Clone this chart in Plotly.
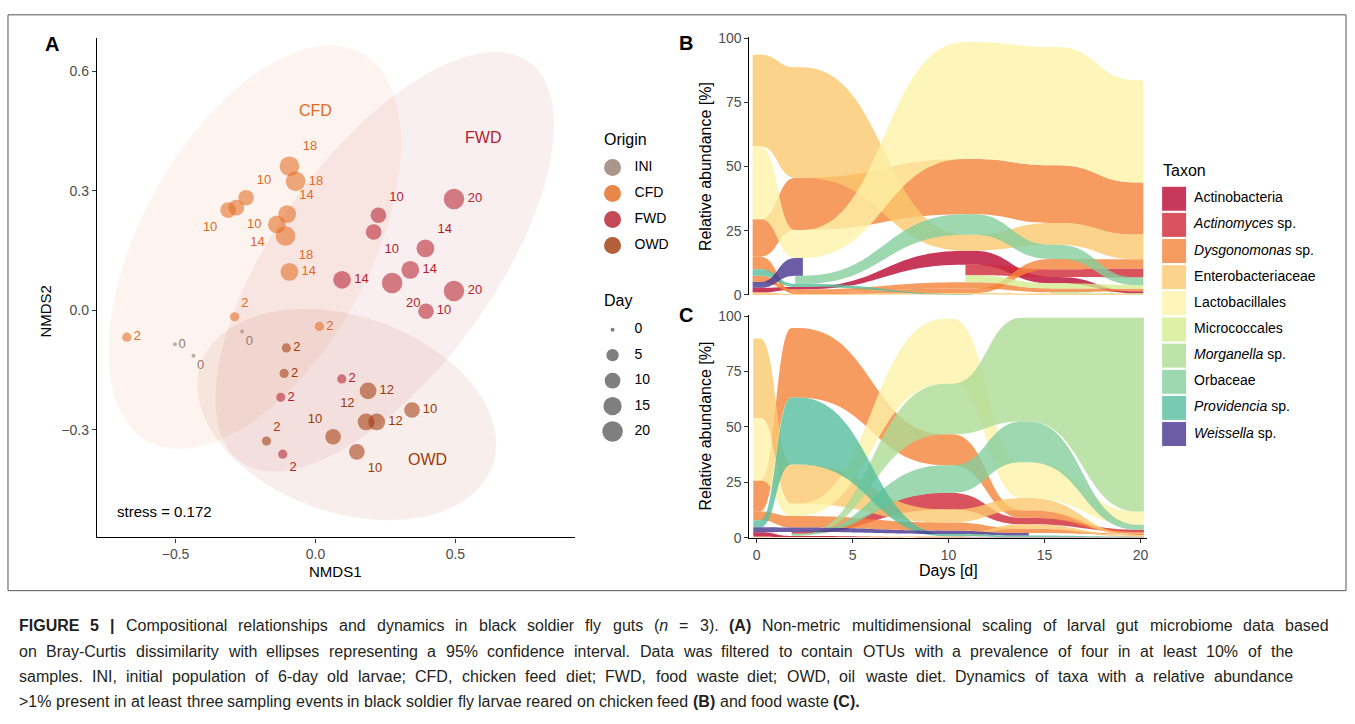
import numpy as np
import plotly.graph_objects as go

W, H = 1355, 724
FONT = "Liberation Sans, Arial, Helvetica, sans-serif"

# ---------------- Panel A: NMDS data ----------------
ini_x = [-0.262, -0.502, -0.436]
ini_y = [-0.053, -0.085, -0.114]
ini_day = [0, 0, 0]

cfd_x = [-0.093, -0.071, -0.248, -0.283, -0.312, -0.101, -0.138, -0.107, -0.093, -0.289, -0.674, 0.014]
cfd_y = [0.362, 0.324, 0.283, 0.258, 0.252, 0.242, 0.216, 0.187, 0.097, -0.016, -0.067, -0.040]
cfd_day = [18, 18, 10, 10, 10, 14, 14, 18, 14, 2, 2, 2]

fwd_x = [0.495, 0.225, 0.208, 0.393, 0.339, 0.095, 0.274, 0.495, 0.395, 0.094, -0.124, -0.117]
fwd_y = [0.280, 0.239, 0.197, 0.156, 0.102, 0.077, 0.069, 0.049, -0.002, -0.172, -0.218, -0.361]
fwd_day = [20, 10, 10, 14, 14, 14, 20, 20, 10, 2, 2, 2]

owd_x = [-0.104, -0.112, -0.175, 0.188, 0.345, 0.181, 0.219, 0.063, 0.148]
owd_y = [-0.094, -0.158, -0.328, -0.202, -0.250, -0.280, -0.280, -0.317, -0.355]
owd_day = [2, 2, 2, 12, 10, 12, 12, 10, 10]

# label placement (ggrepel-like), styling only
ini_pos = ["bottom right", "middle right", "bottom right"]
cfd_pos = ["top right", "middle right", "top right", "bottom right", "bottom left", "top right",
           "bottom left", "bottom right", "middle right", "top right", "middle right", "middle right"]
fwd_pos = ["middle right", "top right", "bottom right", "top right", "middle right", "middle right",
           "bottom right", "middle right", "middle right", "middle right", "middle right", "bottom right"]
owd_pos = ["middle right", "middle right", "top right", "middle right", "middle right", "top left",
           "middle right", "top left", "bottom right"]

# 95% ellipses: centre, two conjugate semi-axis vectors (data units)
ell_cfd = dict(c=(-0.217, 0.159), u=(0.377, 0.489), v=(0.3626, -0.1326))
ell_fwd = dict(c=(0.2475, 0.1222), u=(0.5125, 0.5035), v=(0.3218, -0.1551))
ell_owd = dict(c=(0.1118, -0.2614), u=(0.520, -0.1303), v=(-0.1221, -0.2311))

stress_text = "stress = 0.172"
group_label_xy = {"CFD": (-0.001, 0.503), "FWD": (0.598, 0.434), "OWD": (0.401, -0.374)}
legend_days = [0, 5, 10, 15, 20]

GROUP_COL = {"INI": (148, 123, 109), "CFD": (226, 105, 29), "FWD": (180, 28, 44), "OWD": (160, 56, 9)}

# ---------------- Panels B/C: taxa dynamics ----------------
TAXA = ["Actinobacteria", "Actinomyces", "Dysgonomonas", "Enterobacteriaceae", "Lactobacillales",
        "Micrococcales", "Morganella", "Orbaceae", "Providencia", "Weissella"]
TAXA_LABEL = ["Actinobacteria", "<i>Actinomyces</i> sp.", "<i>Dysgonomonas</i> sp.", "Enterobacteriaceae",
              "Lactobacillales", "Micrococcales", "<i>Morganella</i> sp.", "Orbaceae",
              "<i>Providencia</i> sp.", "<i>Weissella</i> sp."]
TAXA_SEEN = [(200, 56, 90), (217, 83, 95), (246, 156, 97), (252, 211, 138), (254, 245, 186),
             (220, 240, 166), (189, 227, 170), (157, 216, 176), (120, 203, 176), (107, 92, 166)]

days_b = [0, 2, 10, 14, 18]
b_ent1 = [35.6, 43.0, 6.2, 8.5, 9.6]
b_lac1 = [28.4, 10.9, 45.6, 46.0, 39.8]
b_dys1 = [14.6, 20.3, 21.5, 22.5, 20.3]
b_dys2 = [4.9, 0.8, 1.8, 4.0, 3.6]
b_dys3 = [2.5, 1.0, 2.4, 1.5, 1.0]
b_prov = [2.5, 1.2, 0.2, None, None]
b_weis = [2.2, 6.9, None, None, None]
b_act = [1.9, 1.0, 5.5, 2.5, 0.8]
b_ent2 = [0.9, 0.3, 0.5, 0.5, 0.3]
b_orb = [None, 3.2, 8.0, 5.5, 2.9]
b_actm = [None, None, 4.0, 3.0, 3.5]
b_micro = [None, None, 2.8, 2.0, 1.5]
b_morg = [None, None, None, 0.5, 0.3]

days_c = [0, 2, 10, 14, 20]
c_ent1 = [35.8, 17.7, 5.9, 5.5, 0.5]
c_lac1 = [28.2, 5.6, 29.4, 16.2, 5.9]
c_dys1 = [14.0, 31.4, 14.0, 3.4, 0.8]
c_dys2 = [4.0, 5.2, 3.7, 2.0, 0.5]
c_prov = [3.2, 30.2, 1.0, 0.8, 0.3]
c_weis = [2.2, 2.0, 1.5, 1.1, None]
c_act = [2.0, 0.5, 0.2, 0.2, 0.2]
c_ent2 = [0.5, 0.3, 0.5, 2.0, 0.3]
c_actm = [None, 0.8, 7.4, 2.9, 1.0]
c_morg = [None, 0.5, 22.8, 46.8, 87.5]
c_orb = [None, 0.5, 12.5, 18.4, 2.3]

otus_b = {
    "Ent1": ("Enterobacteriaceae", b_ent1), "Lac1": ("Lactobacillales", b_lac1),
    "Dys1": ("Dysgonomonas", b_dys1), "Dys2": ("Dysgonomonas", b_dys2), "Dys3": ("Dysgonomonas", b_dys3),
    "Prov": ("Providencia", b_prov), "Weis": ("Weissella", b_weis), "Act": ("Actinobacteria", b_act),
    "Ent2": ("Enterobacteriaceae", b_ent2), "Orb": ("Orbaceae", b_orb), "Actm": ("Actinomyces", b_actm),
    "Micro": ("Micrococcales", b_micro), "Morg": ("Morganella", b_morg),
}
otus_c = {
    "Ent1": ("Enterobacteriaceae", c_ent1), "Lac1": ("Lactobacillales", c_lac1),
    "Dys1": ("Dysgonomonas", c_dys1), "Dys2": ("Dysgonomonas", c_dys2), "Prov": ("Providencia", c_prov),
    "Weis": ("Weissella", c_weis), "Act": ("Actinobacteria", c_act), "Ent2": ("Enterobacteriaceae", c_ent2),
    "Actm": ("Actinomyces", c_actm), "Morg": ("Morganella", c_morg), "Orb": ("Orbaceae", c_orb),
}

# caption text ('**' marks a bold word, '_x_' italics)
caption_lines = [
    "**FIGURE **5 **| Compositional relationships and dynamics in black soldier fly guts (_n_ = 3). **(A) "
    "Non-metric multidimensional scaling of larval gut microbiome data based",
    "on Bray-Curtis dissimilarity with ellipses representing a 95% confidence interval. Data was filtered to "
    "contain OTUs with a prevalence of four in at least 10% of the",
    "samples. INI, initial population of 6-day old larvae; CFD, chicken feed diet; FWD, food waste diet; "
    "OWD, oil waste diet. Dynamics of taxa with a relative abundance",
    ">1% present in at least three sampling events in black soldier fly larvae reared on chicken feed "
    "**(B) and food waste **(C).",
]
caption_right = [1328, 1292, 1292, None]   # justified right edge per line (None = ragged last line)

# ---------------- helpers ----------------
def px(x):
    return x / W


def py(y):
    return 1 - y / H


def rgba(c, a):
    return "rgba(%d,%d,%d,%.3f)" % (c[0], c[1], c[2], a)


def base_from_seen(c, a):
    return tuple(int(max(0, min(255, round((v - (1 - a) * 255) / a)))) for v in c)


def dot_size(d):
    return 4 + 16.5 * np.sqrt(np.asarray(d, dtype=float) / 20.0)


# Liberation Sans (Arial-metric) advance widths, 1/1000 em
_REG = {' ': 278, '%': 889, '(': 333, ')': 333, ',': 278, '-': 333, '.': 278, ';': 278, ':': 278,
        '=': 584, '>': 584, '|': 260, 'A': 667, 'B': 667, 'C': 722, 'D': 722, 'E': 667, 'F': 611, 'G': 778,
        'H': 722, 'I': 278, 'N': 722, 'O': 778, 'R': 722, 'S': 667, 'T': 611, 'U': 722, 'W': 944,
        'a': 556, 'b': 556, 'c': 500, 'd': 556, 'e': 556, 'f': 278, 'g': 556, 'h': 556, 'i': 222, 'j': 222,
        'k': 500, 'l': 222, 'm': 833, 'n': 556, 'o': 556, 'p': 556, 'q': 556, 'r': 333, 's': 500, 't': 278,
        'u': 556, 'v': 500, 'w': 722, 'x': 500, 'y': 500, 'z': 500}
_BOLD = dict(_REG)
_BOLD.update({'|': 280, 'A': 722, 'B': 722, 'C': 722, 'F': 611, 'G': 778, 'I': 278, 'R': 722, 'U': 722, 'E': 667})


def tok_width(txt, bold, size):
    tab = _BOLD if bold else _REG
    return sum(tab.get(ch, 556) for ch in txt) * size / 1000.0


def parse_words(line):
    words = []
    for raw in line.split(" "):
        bold = raw.startswith("**")
        w = raw[2:] if bold else raw
        plain = w.replace("_", "")
        html = w
        if "_" in html:
            parts = html.split("_")
            html = parts[0] + "<i>" + parts[1] + "</i>" + "".join(parts[2:])
        if html.startswith(">"):
            html = "&gt;" + html[1:]
        if bold:
            html = "<b>" + html + "</b>"
        words.append((html, plain, bold))
    return words


fig = go.Figure()
shapes = []

# ---------------- Panel A ----------------
t = np.linspace(0, 2 * np.pi, 240)
for e, g, a in [(ell_cfd, "CFD", 0.07), (ell_fwd, "FWD", 0.07), (ell_owd, "OWD", 0.08)]:
    ex = e["c"][0] + e["u"][0] * np.cos(t) + e["v"][0] * np.sin(t)
    ey = e["c"][1] + e["u"][1] * np.cos(t) + e["v"][1] * np.sin(t)
    fig.add_trace(go.Scatter(x=ex, y=ey, mode="lines", line=dict(width=0), fill="toself",
                             fillcolor=rgba(GROUP_COL[g], a), hoverinfo="skip", showlegend=False,
                             xaxis="x", yaxis="y"))

for g, xs, ys, ds, pos in [("INI", ini_x, ini_y, ini_day, ini_pos), ("CFD", cfd_x, cfd_y, cfd_day, cfd_pos),
                           ("FWD", fwd_x, fwd_y, fwd_day, fwd_pos), ("OWD", owd_x, owd_y, owd_day, owd_pos)]:
    fig.add_trace(go.Scatter(
        x=xs, y=ys, mode="markers+text", text=[str(d) for d in ds], textposition=pos,
        textfont=dict(size=13, color=rgba(GROUP_COL[g], 1), family=FONT),
        marker=dict(size=dot_size(ds), color=rgba(GROUP_COL[g], 0.8), line=dict(width=0)),
        showlegend=False, xaxis="x", yaxis="y", cliponaxis=False))

ann = []
for g, (gx, gy) in group_label_xy.items():
    ann.append(dict(x=gx, y=gy, xref="x", yref="y", text=g, showarrow=False, xanchor="center",
                    yanchor="middle", font=dict(size=16, color=rgba(GROUP_COL[g], 1), family=FONT)))
ann.append(dict(x=-0.717, y=-0.505, xref="x", yref="y", text=stress_text, showarrow=False, xanchor="left",
                yanchor="middle", font=dict(size=15, color="black", family=FONT)))

# ---------------- Panels B / C (alluvial flows) ----------------
W_FLAT = 0.18
CTRL = 0.5


def flow_path(days, lo, up):
    n = len(days)
    seg = ["M %.4f,%.4f" % (days[0] - W_FLAT, up[0]), "L %.4f,%.4f" % (days[0] + W_FLAT, up[0])]
    for i in range(1, n):
        x0, x1 = days[i - 1] + W_FLAT, days[i] - W_FLAT
        g = x1 - x0
        seg.append("C %.4f,%.4f %.4f,%.4f %.4f,%.4f" % (x0 + CTRL * g, up[i - 1], x1 - CTRL * g, up[i], x1, up[i]))
        seg.append("L %.4f,%.4f" % (days[i] + W_FLAT, up[i]))
    seg.append("L %.4f,%.4f" % (days[-1] + W_FLAT, lo[-1]))
    seg.append("L %.4f,%.4f" % (days[-1] - W_FLAT, lo[-1]))
    for i in range(n - 2, -1, -1):
        x1, x0 = days[i + 1] - W_FLAT, days[i] + W_FLAT
        g = x1 - x0
        seg.append("C %.4f,%.4f %.4f,%.4f %.4f,%.4f" % (x1 - CTRL * g, lo[i + 1], x0 + CTRL * g, lo[i], x0, lo[i]))
        seg.append("L %.4f,%.4f" % (days[i] - W_FLAT, lo[i]))
    seg.append("Z")
    return " ".join(seg)


def add_flows(days, otus, xref, yref):
    n = len(days)
    lo = {k: [None] * n for k in otus}
    up = {k: [None] * n for k in otus}
    for i in range(n):
        pres = [k for k in otus if otus[k][1][i] is not None]
        pres.sort(key=lambda k: otus[k][1][i])
        c = 0.0
        for k in pres:
            lo[k][i] = c
            c += otus[k][1][i]
            up[k][i] = c
    order = sorted(otus, key=lambda k: TAXA.index(otus[k][0]))
    for k in order:
        taxon, vals = otus[k]
        col = base_from_seen(TAXA_SEEN[TAXA.index(taxon)], 0.8)
        runs, cur = [], []
        for i in range(n):
            if vals[i] is None:
                if cur:
                    runs.append(cur)
                cur = []
            else:
                cur.append(i)
        if cur:
            runs.append(cur)
        for run in runs:
            path = flow_path([days[i] for i in run], [lo[k][i] for i in run], [up[k][i] for i in run])
            shapes.append(dict(type="path", path=path, xref=xref, yref=yref, fillcolor=rgba(col, 0.8),
                               line=dict(width=0), layer="above"))
    fig.add_trace(go.Scatter(x=days, y=[0] * n, mode="markers", marker=dict(size=1, opacity=0),
                             hoverinfo="skip", showlegend=False, xaxis=xref, yaxis=yref))


add_flows(days_b, otus_b, "x2", "y2")
add_flows(days_c, otus_c, "x3", "y3")

# ---------------- custom legends (overlay axis in pixel units) ----------------
LX_DOT, LX_TXT = 613, 635
orig_groups = ["INI", "CFD", "FWD", "OWD"]
oy = [164 + 26.5 * i for i in range(len(orig_groups))]
fig.add_trace(go.Scatter(x=[LX_DOT] * 4, y=oy, mode="markers",
                         marker=dict(size=17, color=[rgba(GROUP_COL[g], 0.8) for g in orig_groups],
                                     line=dict(width=0)),
                         showlegend=False, hoverinfo="skip", xaxis="x4", yaxis="y4"))
fig.add_trace(go.Scatter(x=[LX_TXT] * 4, y=oy, mode="text", text=orig_groups, textposition="middle right",
                         textfont=dict(size=14, color="black", family=FONT),
                         showlegend=False, hoverinfo="skip", xaxis="x4", yaxis="y4"))
dy = [329.5 + 26 * i for i in range(len(legend_days))]
fig.add_trace(go.Scatter(x=[LX_DOT] * 5, y=dy, mode="markers",
                         marker=dict(size=dot_size(legend_days), color="rgba(40,40,40,0.85)", line=dict(width=0)),
                         showlegend=False, hoverinfo="skip", xaxis="x4", yaxis="y4"))
fig.add_trace(go.Scatter(x=[LX_TXT] * 5, y=dy, mode="text", text=[str(d) for d in legend_days],
                         textposition="middle right", textfont=dict(size=14, color="black", family=FONT),
                         showlegend=False, hoverinfo="skip", xaxis="x4", yaxis="y4"))

ty = [195.8 + 26.7 * i for i in range(len(TAXA))]
fig.add_trace(go.Scatter(x=[1175] * len(TAXA), y=ty, mode="markers",
                         marker=dict(symbol="square", size=25,
                                     color=[rgba(c, 1) for c in TAXA_SEEN],
                                     line=dict(width=1, color="white")),
                         showlegend=False, hoverinfo="skip", xaxis="x4", yaxis="y4"))
fig.add_trace(go.Scatter(x=[1195] * len(TAXA), y=ty, mode="text", text=TAXA_LABEL, textposition="middle right",
                         textfont=dict(size=14, color="black", family=FONT),
                         showlegend=False, hoverinfo="skip", xaxis="x4", yaxis="y4"))


def tann(x, y, text, size=15, xanchor="center", yanchor="middle", color="black", **kw):
    d = dict(x=px(x), y=py(y), xref="paper", yref="paper", text=text, showarrow=False,
             xanchor=xanchor, yanchor=yanchor, font=dict(size=size, color=color, family=FONT))
    d.update(kw)
    ann.append(d)


tann(602, 135, "Origin", 16, xanchor="left")
tann(602, 300, "Day", 16, xanchor="left")
tann(1162, 167, "Taxon", 16, xanchor="left")

tann(52, 38, "<b>A</b>", 20)
tann(687, 37, "<b>B</b>", 20)
tann(687, 315, "<b>C</b>", 20)

tann(336, 576, "NMDS1", 15)
tann(46, 310, "NMDS2", 15, textangle=-90)
tann(706, 163, "Relative abundance [%]", 16, textangle=-90)
tann(706, 428, "Relative abundance [%]", 16, textangle=-90)
tann(949, 575, "Days [d]", 16)

# caption, justified like the journal layout
CAP_SIZE, CAP_LEFT = 16, 17
for i, line in enumerate(caption_lines):
    words = parse_words(line)
    widths = [tok_width(p, b, CAP_SIZE) for _, p, b in words]
    space = tok_width(" ", False, CAP_SIZE)
    if caption_right[i] is not None and len(words) > 1:
        space = (caption_right[i] - CAP_LEFT - sum(widths)) / (len(words) - 1)
    x = CAP_LEFT
    for (html, _, _), wd in zip(words, widths):
        tann(x, 632 + 25.7 * i, html, CAP_SIZE, xanchor="left", color="#231f20")
        x += wd + space

axis_common = dict(showgrid=False, zeroline=False, showline=True, linecolor="black", linewidth=1.3,
                   ticks="outside", ticklen=4, tickwidth=1, tickcolor="#333",
                   tickfont=dict(size=14, color="#4d4d4d", family=FONT))

shapes.append(dict(type="rect", xref="paper", yref="paper", x0=px(8), x1=px(1347), y0=py(596), y1=py(8),
                   line=dict(color="#555", width=1), fillcolor="rgba(0,0,0,0)", layer="below"))

fig.update_layout(
    width=W, height=H, margin=dict(l=0, r=0, t=0, b=0), autosize=False,
    paper_bgcolor="white", plot_bgcolor="rgba(0,0,0,0)", showlegend=False,
    font=dict(family=FONT),
    xaxis=dict(domain=[px(97), px(575)], range=[-0.781, 0.926], anchor="y",
               tickvals=[-0.5, 0, 0.5], ticktext=["\u22120.5", "0.0", "0.5"], **axis_common),
    yaxis=dict(domain=[py(541.7), py(31.7)], range=[-0.570, 0.684], anchor="x",
               tickvals=[-0.3, 0, 0.3, 0.6], ticktext=["\u22120.3", "0.0", "0.3", "0.6"], **axis_common),
    xaxis2=dict(domain=[px(750), px(1148)], range=[-0.33, 18.36], anchor="y2", visible=False),
    yaxis2=dict(domain=[py(294), py(30.4)], range=[0, 100.5], anchor="x2",
                tickvals=[0, 25, 50, 75, 100], **axis_common),
    xaxis3=dict(domain=[px(750), px(1148)], range=[-0.38, 20.35], anchor="y3",
                tickvals=[0, 5, 10, 15, 20], **axis_common),
    yaxis3=dict(domain=[py(542), py(314.6)], range=[0, 100.5], anchor="x3",
                tickvals=[0, 25, 50, 75, 100], **axis_common),
    xaxis4=dict(domain=[0, 1], range=[0, W], anchor="y4", visible=False, fixedrange=True),
    yaxis4=dict(domain=[0, 1], range=[H, 0], anchor="x4", visible=False, fixedrange=True),
    annotations=ann,
    shapes=shapes,
)

fig.write_html("out.html", config={"displayModeBar": False, "responsive": False},
               post_script="document.body.style.margin='0px';")
